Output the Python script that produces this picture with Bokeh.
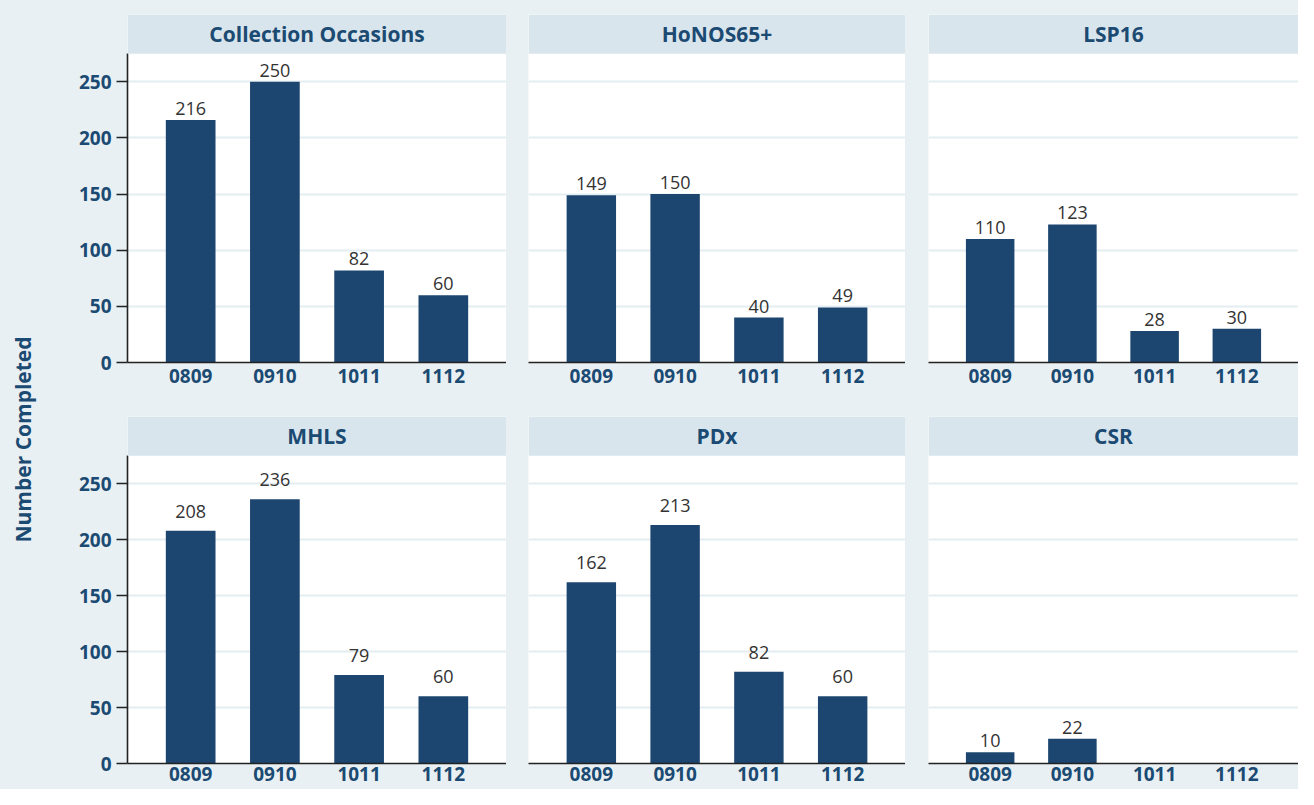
import re
from bokeh.plotting import figure
from bokeh.models import ColumnDataSource, FixedTicker, BoxAnnotation, Label, Range1d
from bokeh.layouts import row, column
from bokeh.core.properties import value
from bokeh.embed import file_html
from bokeh.resources import INLINE

# ---- data ----
years = ["0809", "0910", "1011", "1112"]
panel_names = ["Collection Occasions", "HoNOS65+", "LSP16", "MHLS", "PDx", "CSR"]
collection_occasions = [216, 250, 82, 60]
honos65 = [149, 150, 40, 49]
lsp16 = [110, 123, 28, 30]
mhls = [208, 236, 79, 60]
pdx = [162, 213, 82, 60]
csr = [10, 22, 0, 0]
y_ticks = [0, 50, 100, 150, 200, 250]
y_title = "Number Completed"

series = [collection_occasions, honos65, lsp16, mhls, pdx, csr]

# ---- style ----
FONT = "Open Sans"
BG = "#e9f0f3"
HDR = "#d8e5ec"
GRID = "#e4edf1"
BAR = "#1c4670"
TXT = "#1b4a72"
LBL = "#333333"
AXIS = "#222222"

Y_MAX = 275
Y_TOP = 310
X0, X1 = 0.25, 4.75

LAB_W = 58
col_widths = [448, 399, 393]
col_left = [69, 22, 23]
row_heights = [412, 377]
row_top = [14, 4]
row_frame1 = 348
row2_bottom = 26
x_standoff = [6, 3]
label_offsets = [5, 5, 5, 13, 13, 5]


def make_panel(i):
    r, c = divmod(i, 3)
    xs = list(range(1, len(years) + 1))
    vals = series[i]
    labels = [str(v) if v > 0 else "" for v in vals]
    src = ColumnDataSource(dict(x=xs, top=vals, label=labels))
    kw = dict(min_border_top=row_top[r])
    if r == 0:
        kw["min_border_bottom"] = row_heights[0] - row_top[0] - row_frame1
    else:
        kw["min_border_bottom"] = row2_bottom
    p = figure(width=col_widths[c], height=row_heights[r],
               x_range=Range1d(X0, X1), y_range=Range1d(0, Y_TOP),
               output_backend="svg", toolbar_location=None,
               min_border_left=col_left[c], min_border_right=0,
               background_fill_color="white", border_fill_color=BG,
               outline_line_color=None, **kw)
    p.vbar(x="x", top="top", width=0.59, source=src,
           fill_color=BAR, line_color=None)
    p.text(x="x", y="top", text="label", source=src,
           text_align="center", text_baseline="bottom",
           y_offset=-label_offsets[i],
           text_font=value(FONT), text_font_size="18px", text_color=LBL)

    # header band
    p.add_layout(BoxAnnotation(bottom=Y_MAX, fill_color=HDR, fill_alpha=1,
                               line_color=None, level="annotation"))
    p.add_layout(Label(x=(X0 + X1) / 2, y=(Y_MAX + Y_TOP) / 2,
                       text=panel_names[i], text_align="center",
                       text_baseline="middle", text_font=FONT,
                       text_font_style="bold", text_font_size="21px",
                       text_color=TXT))

    # x axis
    xa = p.xaxis[0]
    xa.ticker = FixedTicker(ticks=xs)
    xa.major_label_overrides = {x: y for x, y in zip(xs, years)}
    xa.major_tick_out = 0
    xa.major_tick_in = 0
    xa.minor_tick_out = 0
    xa.minor_tick_in = 0
    xa.axis_line_color = AXIS
    xa.axis_line_width = 1.6
    xa.major_label_standoff = x_standoff[r]
    xa.major_label_text_font = FONT
    xa.major_label_text_font_style = "bold"
    xa.major_label_text_font_size = "19px"
    xa.major_label_text_color = TXT

    # y axis
    ya = p.yaxis[0]
    ya.ticker = FixedTicker(ticks=y_ticks)
    p.ygrid.ticker = FixedTicker(ticks=y_ticks)
    if c == 0:
        ya.bounds = (0, Y_MAX)
        ya.axis_line_color = AXIS
        ya.axis_line_width = 1.6
        ya.major_tick_out = 11
        ya.major_tick_in = 0
        ya.minor_tick_out = 0
        ya.minor_tick_in = 0
        ya.major_tick_line_color = AXIS
        ya.major_tick_line_width = 1.6
        ya.major_label_standoff = 5
        ya.major_label_text_font = FONT
        ya.major_label_text_font_style = "bold"
        ya.major_label_text_font_size = "19px"
        ya.major_label_text_color = TXT
    else:
        ya.visible = False

    p.xgrid.visible = False
    p.ygrid.grid_line_color = GRID
    p.ygrid.grid_line_width = 2
    return p


panels = [make_panel(i) for i in range(6)]

total_h = row_heights[0] + row_heights[1]
lab = figure(width=LAB_W, height=total_h, x_range=Range1d(0, LAB_W),
             y_range=Range1d(0, total_h), output_backend="svg",
             toolbar_location=None, x_axis_location=None,
             y_axis_location=None, min_border=0,
             background_fill_color=BG, border_fill_color=BG,
             outline_line_color=None)
lab.grid.visible = False
lab.add_layout(Label(x=22, y=total_h - 439, text=y_title, angle=90,
                     angle_units="deg", text_align="center",
                     text_baseline="middle", text_font=FONT,
                     text_font_style="bold", text_font_size="21px",
                     text_color=TXT))

bg_style = {"background-color": BG}
layout = row(lab,
             column(row(*panels[:3], styles=bg_style),
                    row(*panels[3:], styles=bg_style),
                    styles=bg_style),
             styles=bg_style)

html = file_html(layout, INLINE)
html = re.sub(r"<body([^>]*)>",
              lambda m: '<body%s style="background-color:%s">' % (m.group(1), BG),
              html, count=1)
open("out.html", "w").write(html)
